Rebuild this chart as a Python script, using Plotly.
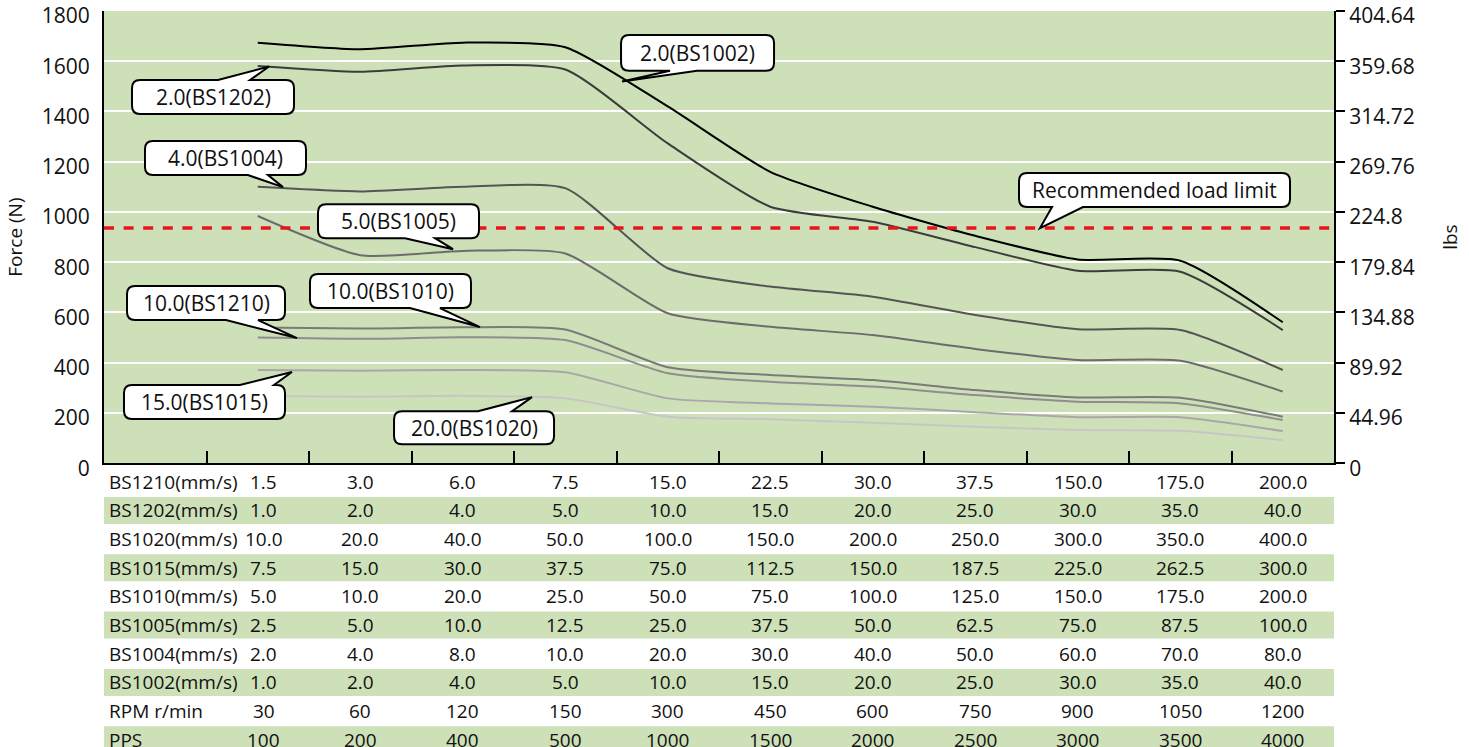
import plotly.graph_objects as go

# ---------------- data ----------------
x_pos = [1, 2, 3, 4, 5, 6, 7, 8, 9, 10, 11]

force_BS1002 = [1674, 1648, 1674, 1656, 1420, 1160, 1021, 905, 811, 806, 561]
force_BS1202 = [1581, 1558, 1583, 1567, 1273, 1021, 961, 860, 766, 762, 530]
force_BS1004 = [1100, 1082, 1100, 1095, 776, 703, 663, 590, 533, 530, 371]
force_BS1005 = [984, 828, 845, 835, 597, 543, 510, 455, 411, 408, 285]
force_BS1010 = [540, 536, 541, 532, 382, 351, 331, 291, 262, 261, 185]
force_BS1210 = [500, 495, 501, 490, 358, 324, 305, 271, 245, 238, 172]
force_BS1015 = [371, 368, 371, 362, 258, 238, 225, 203, 183, 183, 128]
force_BS1020 = [267, 265, 268, 258, 185, 175, 161, 145, 132, 129, 92]
load_limit = 936

left_ticks = [0, 200, 400, 600, 800, 1000, 1200, 1400, 1600, 1800]
right_ticks = [0, 44.96, 89.92, 134.88, 179.84, 224.8, 269.76, 314.72, 359.68, 404.64]
right_tick_text = ["0", "44.96", "89.92", "134.88", "179.84", "224.8", "269.76", "314.72", "359.68", "404.64"]

row_labels = ["BS1210(mm/s)", "BS1202(mm/s)", "BS1020(mm/s)", "BS1015(mm/s)", "BS1010(mm/s)",
              "BS1005(mm/s)", "BS1004(mm/s)", "BS1002(mm/s)", "RPM r/min", "PPS"]
row_BS1210 = ["1.5", "3.0", "6.0", "7.5", "15.0", "22.5", "30.0", "37.5", "150.0", "175.0", "200.0"]
row_BS1202 = ["1.0", "2.0", "4.0", "5.0", "10.0", "15.0", "20.0", "25.0", "30.0", "35.0", "40.0"]
row_BS1020 = ["10.0", "20.0", "40.0", "50.0", "100.0", "150.0", "200.0", "250.0", "300.0", "350.0", "400.0"]
row_BS1015 = ["7.5", "15.0", "30.0", "37.5", "75.0", "112.5", "150.0", "187.5", "225.0", "262.5", "300.0"]
row_BS1010 = ["5.0", "10.0", "20.0", "25.0", "50.0", "75.0", "100.0", "125.0", "150.0", "175.0", "200.0"]
row_BS1005 = ["2.5", "5.0", "10.0", "12.5", "25.0", "37.5", "50.0", "62.5", "75.0", "87.5", "100.0"]
row_BS1004 = ["2.0", "4.0", "8.0", "10.0", "20.0", "30.0", "40.0", "50.0", "60.0", "70.0", "80.0"]
row_BS1002 = ["1.0", "2.0", "4.0", "5.0", "10.0", "15.0", "20.0", "25.0", "30.0", "35.0", "40.0"]
row_RPM = ["30", "60", "120", "150", "300", "450", "600", "750", "900", "1050", "1200"]
row_PPS = ["100", "200", "400", "500", "1000", "1500", "2000", "2500", "3000", "3500", "4000"]
table_rows = [row_BS1210, row_BS1202, row_BS1020, row_BS1015, row_BS1010,
              row_BS1005, row_BS1004, row_BS1002, row_RPM, row_PPS]

# ---------------- styles ----------------
GREEN = "#cde0b8"
FONT = "Open Sans"
series = [
    (force_BS1020, "#c6c6c6"),
    (force_BS1015, "#a8a8a8"),
    (force_BS1210, "#8e8e8e"),
    (force_BS1010, "#7a7a7a"),
    (force_BS1005, "#6c6c6c"),
    (force_BS1004, "#555555"),
    (force_BS1202, "#3c3c3c"),
    (force_BS1002, "#000000"),
]

# callouts: text, tip (data x, data y), box (left, right, top, bottom px offsets, y up), tail side & base
callouts = [
    ("2.0(BS1002)", 4.554, 1519, (-1, 152, 46.5, 10.8), "bottom", (48, 75)),
    ("2.0(BS1202)", 1.110, 1579, (-137, 25, -13.5, -47.5), "top", (-51, -19)),
    ("4.0(BS1004)", 1.246, 1099, (-138, 23, 46, 12), "bottom", (-35, -15)),
    ("5.0(BS1005)", 2.905, 852, (-135, 26, 45, 11), "bottom", (-48, -18)),
    ("10.0(BS1210)", 1.383, 498, (-170, -12, 52, 18), "bottom", (-71, -39)),
    ("10.0(BS1010)", 3.168, 542, (-170, -9, 53, 19), "bottom", (-70, -40)),
    ("15.0(BS1015)", 1.334, 363, (-168, -7, -13, -47), "top", (-52, -18)),
    ("20.0(BS1020)", 3.676, 263, (-138, 22, -14, -47), "top", (-54, -20)),
    ("Recommended load limit", 8.632, load_limit, (-21, 250, 55, 21), "bottom", (12, 43)),
]

fig = go.Figure()

for ys, col in series:
    fig.add_trace(go.Scatter(x=x_pos, y=ys, mode="lines",
                             line=dict(color=col, width=2, shape="spline", smoothing=0.6),
                             hoverinfo="skip", showlegend=False))

fig.add_trace(go.Scatter(x=[-0.5, 11.5], y=[load_limit, load_limit], mode="lines",
                         line=dict(color="#e8141c", width=3.5, dash="10px,9.6px"),
                         hoverinfo="skip", showlegend=False))

# dummy trace to activate right axis
fig.add_trace(go.Scatter(x=[None], y=[None], yaxis="y3", showlegend=False))

shapes = []
annotations = []

# plot background (main area only)
shapes.append(dict(type="rect", xref="x domain", yref="y domain", x0=0, x1=1, y0=0, y1=1,
                   fillcolor=GREEN, line=dict(width=0), layer="below"))


def bubble_path(box, side, base, r=8):
    L, R, T, B = box
    if side == "top":
        a, b = base
        s = f"M{L + r},{T} L{a},{T} L0,0 L{b},{T} L{R - r},{T} "
    else:
        s = f"M{L + r},{T} L{R - r},{T} "
    s += f"Q{R},{T} {R},{T - r} L{R},{B + r} Q{R},{B} {R - r},{B} "
    if side == "bottom":
        a, b = base
        s += f"L{b},{B} L0,0 L{a},{B} "
    s += f"L{L + r},{B} Q{L},{B} {L},{B + r} L{L},{T - r} Q{L},{T} {L + r},{T} Z"
    return s


for text, tx, ty, box, side, base in callouts:
    shapes.append(dict(type="path", xref="x", yref="y", xsizemode="pixel", ysizemode="pixel",
                       xanchor=tx, yanchor=ty, path=bubble_path(box, side, base),
                       fillcolor="white", line=dict(color="black", width=2), layer="above"))
    L, R, T, B = box
    annotations.append(dict(x=tx, y=ty, xref="x", yref="y", text=text, showarrow=False,
                            xshift=(L + R) / 2, yshift=(T + B) / 2,
                            font=dict(family=FONT, size=21, color="#111111")))

# table
for i, (lab, vals) in enumerate(zip(row_labels, table_rows)):
    if i % 2 == 1:
        shapes.append(dict(type="rect", xref="x", yref="y2", x0=-0.5, x1=11.5,
                           y0=i - 0.471, y1=i + 0.471, fillcolor=GREEN, line=dict(width=0),
                           layer="below"))
    annotations.append(dict(x=-0.5, y=i, xref="x", yref="y2", text=lab, showarrow=False,
                            xanchor="left", xshift=3, font=dict(family=FONT, size=19, color="#111111")))
    for j, (xp, v) in enumerate(zip(x_pos, vals)):
        annotations.append(dict(x=xp, y=i, xref="x", yref="y2", text=v, showarrow=False,
                                xshift=6 if j == 0 else 0,
                                font=dict(family=FONT, size=19, color="#111111")))

main_bottom = (747 - 463.2) / 736

fig.update_layout(
    width=1469, height=747, autosize=False,
    margin=dict(l=104, r=135, t=11, b=0, pad=0, autoexpand=False),
    paper_bgcolor="white", plot_bgcolor="rgba(0,0,0,0)",
    showlegend=False,
    font=dict(family=FONT, color="#111111"),
    xaxis=dict(range=[-0.5, 11.5], domain=[0, 1], anchor="y", automargin=False,
               tickmode="array", tickvals=[0.5, 1.5, 2.5, 3.5, 4.5, 5.5, 6.5, 7.5, 8.5, 9.5, 10.5],
               showticklabels=False, ticks="inside", ticklen=12, tickwidth=2, tickcolor="black",
               showline=True, linecolor="black", linewidth=2, showgrid=False, zeroline=False),
    yaxis=dict(domain=[main_bottom, 1], range=[0, 1800], anchor="x", automargin=False,
               tickmode="array", tickvals=left_ticks, ticklabeloverflow="allow",
               ticklabelshift=5,
               showgrid=True, gridcolor="white", gridwidth=2,
               showline=True, linecolor="black", linewidth=2, zeroline=False,
               ticks="", ticklabelstandoff=8,
               tickfont=dict(family=FONT, size=21, color="#111111"),
               title=dict(text="Force (N)", font=dict(family=FONT, size=19, color="#111111"), standoff=14)),
    yaxis3=dict(overlaying="y", side="right", anchor="x", range=[0, 404.64], automargin=False,
                tickmode="array", tickvals=right_ticks, ticktext=right_tick_text,
                ticklabeloverflow="allow", ticklabelshift=5,
                ticks="outside", ticklen=9, tickwidth=2, tickcolor="black",
                showline=True, linecolor="black", linewidth=2, showgrid=False, zeroline=False,
                tickfont=dict(family=FONT, size=21, color="#111111"),
                title=dict(text="lbs", font=dict(family=FONT, size=19, color="#111111"), standoff=30)),
    yaxis2=dict(domain=[0, main_bottom], range=[9.255, -0.651], anchor="x", visible=False,
                fixedrange=True, automargin=False),
    shapes=shapes,
    annotations=annotations,
)

fig.write_html("out.html")
